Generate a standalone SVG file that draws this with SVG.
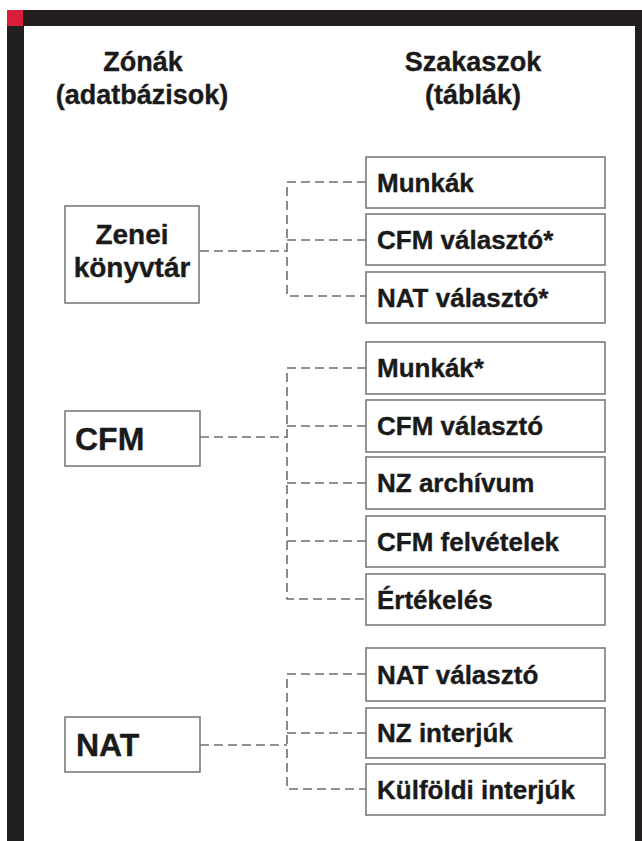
<svg xmlns="http://www.w3.org/2000/svg" width="642" height="841" viewBox="0 0 642 841">
<style>
  text { font-family: "Liberation Sans", Arial, sans-serif; font-weight: bold; fill: #1a1a1a; stroke: #1a1a1a; stroke-width: 0.35; }
  .hdr { font-size: 27px; text-anchor: middle; }
  .zone { font-size: 28px; text-anchor: middle; }
  .zbig { font-size: 32px; }
  .sec { font-size: 26px; }
  .box { fill: #ffffff; stroke: #7a7a7a; stroke-width: 1.6; }
  .conn { fill: none; stroke: #6e6e6e; stroke-width: 1.6; stroke-dasharray: 9 5; }
</style>
<rect x="0" y="0" width="642" height="841" fill="#ffffff"/>
<g id="frame">
  <rect x="7" y="10" width="635" height="16" fill="#231f20"/>
  <rect x="7" y="10" width="17" height="831" fill="#231f20"/>
  <rect x="635" y="10" width="7" height="831" fill="#231f20"/>
  <rect x="7" y="10" width="16" height="16" fill="#d91e3c"/>
</g>
<g id="headers">
  <text class="hdr" x="143" y="71">Zónák</text>
  <text class="hdr" x="142" y="104">(adatbázisok)</text>
  <text class="hdr" x="473" y="71">Szakaszok</text>
  <text class="hdr" x="473" y="104">(táblák)</text>
</g>
<g id="connectors">
  <path class="conn" d="M200 251 H287"/>
  <path class="conn" d="M366 182 H287 V296 H366"/>
  <path class="conn" d="M287 240 H366"/>
  <path class="conn" d="M200 437 H287"/>
  <path class="conn" d="M366 368 H287 V599 H366"/>
  <path class="conn" d="M287 426 H366"/>
  <path class="conn" d="M287 483 H366"/>
  <path class="conn" d="M287 541 H366"/>
  <path class="conn" d="M200 745 H287"/>
  <path class="conn" d="M366 674 H287 V789 H366"/>
  <path class="conn" d="M287 733 H366"/>
</g>
<g id="zone-zenei">
  <rect class="box" x="65" y="206" width="134" height="97"/>
  <text class="zone" x="132" y="244">Zenei</text>
  <text class="zone" x="132" y="277">könyvtár</text>
</g>
<g id="zone-cfm">
  <rect class="box" x="65" y="411" width="135" height="55"/>
  <text class="zbig" x="75" y="450">CFM</text>
</g>
<g id="zone-nat">
  <rect class="box" x="65" y="717" width="135" height="55"/>
  <text class="zbig" x="76" y="756">NAT</text>
</g>
<g id="sec-zenei-munkak">
  <rect class="box" x="366" y="157" width="239" height="51"/>
  <text class="sec" x="377" y="192">Munkák</text>
</g>
<g id="sec-zenei-cfm">
  <rect class="box" x="366" y="214" width="239" height="51"/>
  <text class="sec" x="377" y="249">CFM választó*</text>
</g>
<g id="sec-zenei-nat">
  <rect class="box" x="366" y="272" width="239" height="51"/>
  <text class="sec" x="377" y="307">NAT választó*</text>
</g>
<g id="sec-cfm-munkak">
  <rect class="box" x="366" y="342" width="239" height="52"/>
  <text class="sec" x="377" y="377">Munkák*</text>
</g>
<g id="sec-cfm-valaszto">
  <rect class="box" x="366" y="400" width="239" height="52"/>
  <text class="sec" x="377" y="435">CFM választó</text>
</g>
<g id="sec-cfm-nz">
  <rect class="box" x="366" y="457" width="239" height="52"/>
  <text class="sec" x="377" y="492">NZ archívum</text>
</g>
<g id="sec-cfm-felv">
  <rect class="box" x="366" y="516" width="239" height="51"/>
  <text class="sec" x="377" y="551">CFM felvételek</text>
</g>
<g id="sec-cfm-ert">
  <rect class="box" x="366" y="574" width="239" height="51"/>
  <text class="sec" x="377" y="609">Értékelés</text>
</g>
<g id="sec-nat-valaszto">
  <rect class="box" x="366" y="648" width="239" height="53"/>
  <text class="sec" x="377" y="684">NAT választó</text>
</g>
<g id="sec-nat-nz">
  <rect class="box" x="366" y="708" width="239" height="50"/>
  <text class="sec" x="377" y="742">NZ interjúk</text>
</g>
<g id="sec-nat-kulf">
  <rect class="box" x="366" y="764" width="239" height="51"/>
  <text class="sec" x="377" y="799">Külföldi interjúk</text>
</g>
</svg>
